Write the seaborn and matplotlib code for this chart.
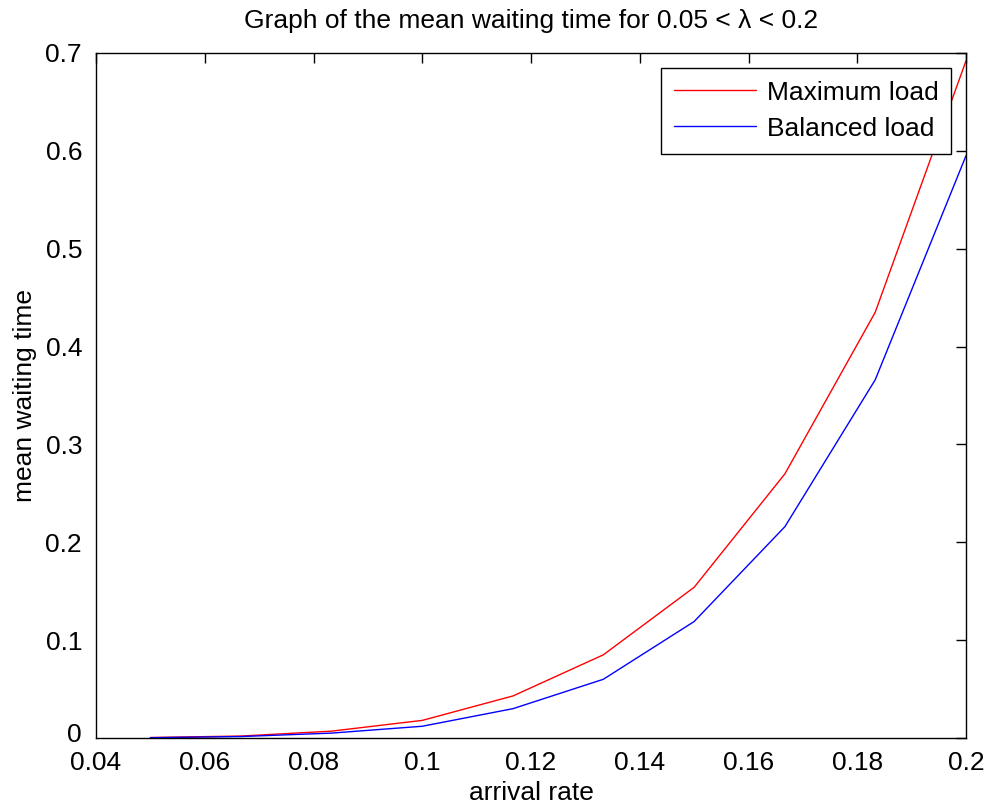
import numpy as np
import pandas as pd
import matplotlib
matplotlib.use("Agg")
import matplotlib.pyplot as plt
from matplotlib.ticker import FuncFormatter
from matplotlib.transforms import ScaledTranslation
import seaborn as sns

# ---- data ----
arrival_rate = [0.05, 0.0667, 0.0833, 0.1, 0.1167, 0.1333, 0.15, 0.1667, 0.1833, 0.2]
maximum_load = [0.0005, 0.002, 0.007, 0.018, 0.043, 0.085, 0.154, 0.270, 0.435, 0.692]
balanced_load = [0.0003, 0.0015, 0.005, 0.012, 0.030, 0.060, 0.119, 0.216, 0.366, 0.595]
series_names = ["Maximum load", "Balanced load"]
series_colors = ["#ff0000", "#0000ff"]
x_ticks = [0.04, 0.06, 0.08, 0.1, 0.12, 0.14, 0.16, 0.18, 0.2]
y_ticks = [0, 0.1, 0.2, 0.3, 0.4, 0.5, 0.6, 0.7]

df = pd.DataFrame({
    "arrival rate": arrival_rate * 2,
    "mean waiting time": maximum_load + balanced_load,
    "series": [series_names[0]] * len(arrival_rate) + [series_names[1]] * len(arrival_rate),
})

sns.set_style("white")
plt.rcParams["font.family"] = ["Liberation Sans", "DejaVu Sans"]
plt.rcParams["text.color"] = "black"
plt.rcParams["axes.labelcolor"] = "black"
FS = 19

fig = plt.figure(figsize=(9.85, 8.09), dpi=100)
ax = fig.add_axes([96 / 985, 1 - 738 / 809, (966 - 96) / 985, (738 - 53) / 809])

sns.lineplot(data=df, x="arrival rate", y="mean waiting time", hue="series",
             palette=dict(zip(series_names, series_colors)), linewidth=1.0,
             ax=ax, sort=False, estimator=None)

ax.set_xlim(0.04, 0.2)
ax.set_ylim(0, 0.7)
ax.set_xticks(x_ticks)
ax.set_yticks(y_ticks)
fmt = FuncFormatter(lambda v, p: "%g" % round(v, 4))
ax.xaxis.set_major_formatter(fmt)
ax.yaxis.set_major_formatter(fmt)
ax.tick_params(direction="in", length=7, width=1, top=True, right=True,
               labelsize=FS, colors="black")
ax.tick_params(axis="x", pad=9)
ax.tick_params(axis="y", pad=10)
for s in ax.spines.values():
    s.set_visible(True)
    s.set_color("black")
    s.set_linewidth(1.0)

# lift the "0" y tick label slightly so it does not collide with "0.04"
fig.canvas.draw()
zero_lbl = ax.get_yticklabels()[0]
zero_lbl.set_transform(zero_lbl.get_transform() + ScaledTranslation(0, 6 / 100, fig.dpi_scale_trans))

ax.set_xlabel("arrival rate", fontsize=FS, labelpad=5, color="black")
ax.set_ylabel("mean waiting time", fontsize=FS, labelpad=6, color="black")
ax.set_title("Graph of the mean waiting time for 0.05 < λ < 0.2", fontsize=FS, pad=18, color="black")

leg = ax.legend(loc="upper right", fontsize=FS, frameon=True, fancybox=False,
                edgecolor="black", handlelength=3.1, handletextpad=0.4,
                borderpad=0.5, labelspacing=0.45, borderaxespad=0.55)
leg.get_frame().set_linewidth(1.0)
leg.get_frame().set_alpha(1.0)
for t in leg.get_texts():
    t.set_color("black")

fig.savefig("out.png", dpi=100, facecolor="white")
